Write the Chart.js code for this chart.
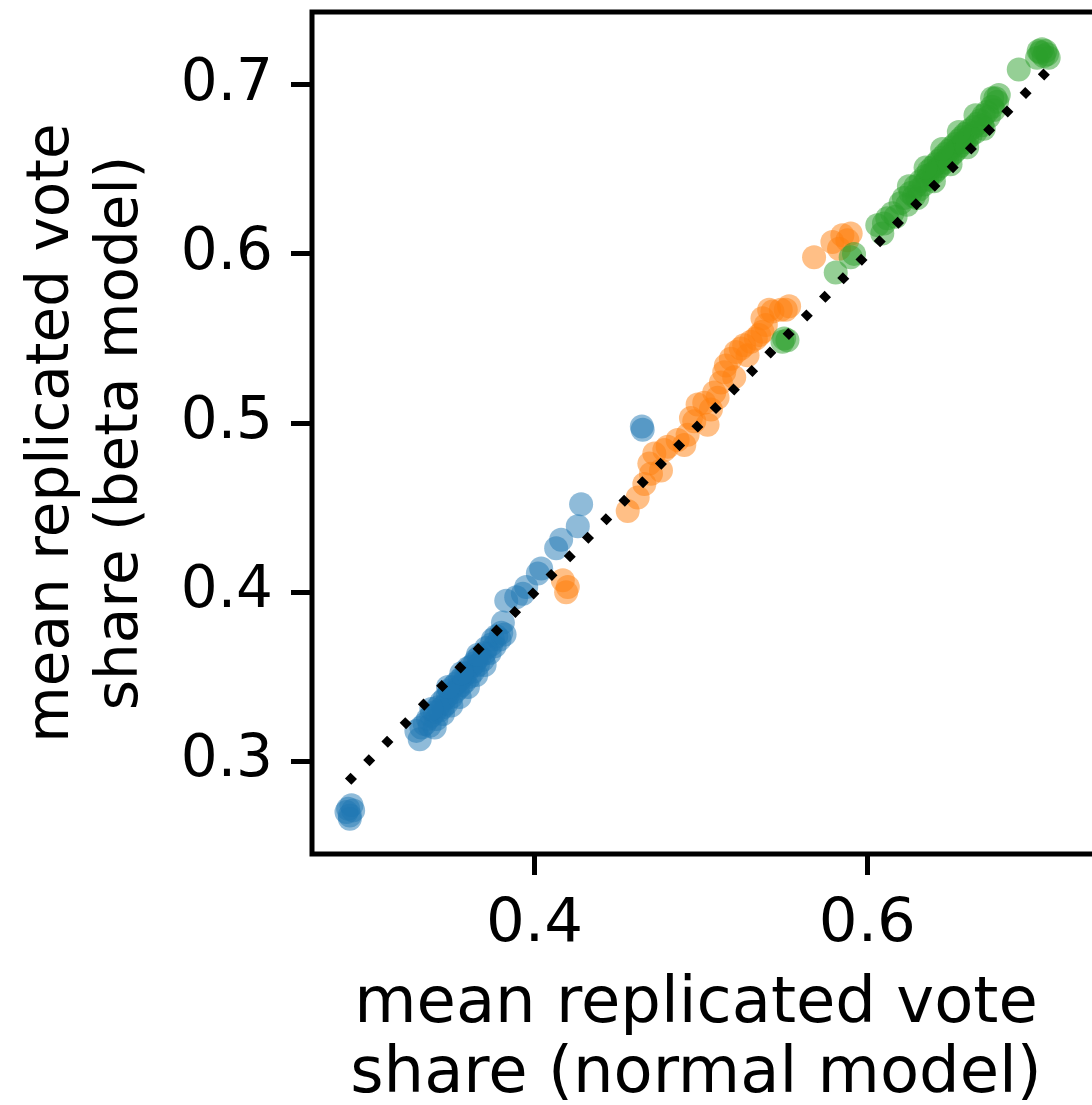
<!DOCTYPE html>
<html>
<head>
<meta charset="utf-8">
<script src="https://cdn.jsdelivr.net/npm/chart.js@4.4.1/dist/chart.umd.min.js"></script>
<style>
  html, body { margin: 0; padding: 0; background: #fff; }
  #wrap { width: 1092px; height: 1105px; position: relative; }
</style>
</head>
<body>
<div id="wrap"><canvas id="myChart"></canvas></div>
<script>
// values: [normal model, beta model]
var bluePoints = [
  [0.288, 0.272], [0.289, 0.268], [0.290, 0.274], [0.287, 0.270], [0.291, 0.271], [0.289, 0.266],
  [0.329, 0.318], [0.331, 0.313], [0.332, 0.320], [0.334, 0.322], [0.336, 0.325], [0.337, 0.321],
  [0.338, 0.327], [0.340, 0.329], [0.341, 0.325], [0.342, 0.332], [0.343, 0.330], [0.344, 0.335],
  [0.345, 0.332], [0.346, 0.337], [0.347, 0.334], [0.348, 0.339], [0.349, 0.342], [0.350, 0.338],
  [0.351, 0.344], [0.352, 0.341], [0.353, 0.346], [0.354, 0.343], [0.355, 0.348], [0.356, 0.345],
  [0.357, 0.350], [0.358, 0.347], [0.359, 0.352], [0.360, 0.355], [0.361, 0.350], [0.362, 0.356],
  [0.363, 0.353], [0.364, 0.358], [0.365, 0.360], [0.366, 0.357], [0.367, 0.362], [0.369, 0.360],
  [0.370, 0.364], [0.371, 0.367], [0.373, 0.364], [0.374, 0.369], [0.375, 0.372], [0.376, 0.368],
  [0.377, 0.374], [0.379, 0.372], [0.380, 0.376], [0.381, 0.382], [0.382, 0.375],
  [0.340, 0.320], [0.345, 0.328], [0.350, 0.333], [0.355, 0.338], [0.360, 0.344], [0.365, 0.351],
  [0.370, 0.357], [0.338, 0.331], [0.348, 0.344], [0.356, 0.352], [0.366, 0.363],
  [0.383, 0.395], [0.389, 0.397], [0.393, 0.399], [0.395, 0.403], [0.402, 0.411], [0.404, 0.414],
  [0.413, 0.426], [0.416, 0.431], [0.426, 0.439], [0.428, 0.452],
  [0.4645, 0.498], [0.465, 0.496]
];
var orangePoints = [
  [0.417, 0.407], [0.419, 0.400], [0.420, 0.403],
  [0.456, 0.448], [0.462, 0.456], [0.466, 0.464], [0.469, 0.476], [0.470, 0.470], [0.472, 0.482],
  [0.476, 0.472], [0.478, 0.484], [0.480, 0.486], [0.486, 0.490], [0.490, 0.487], [0.492, 0.493],
  [0.494, 0.503], [0.496, 0.501], [0.498, 0.511], [0.502, 0.512], [0.504, 0.499], [0.506, 0.508],
  [0.508, 0.518], [0.510, 0.515], [0.512, 0.524], [0.514, 0.530], [0.515, 0.534], [0.518, 0.538],
  [0.520, 0.527], [0.521, 0.542], [0.524, 0.544], [0.526, 0.546], [0.528, 0.540], [0.530, 0.548],
  [0.533, 0.550], [0.535, 0.552], [0.537, 0.554], [0.539, 0.558], [0.537, 0.562], [0.541, 0.567],
  [0.543, 0.566], [0.548, 0.567], [0.551, 0.567], [0.553, 0.569],
  [0.568, 0.598], [0.579, 0.607], [0.583, 0.603], [0.585, 0.611], [0.588, 0.608], [0.590, 0.612]
];
var greenPoints = [
  [0.549, 0.548], [0.552, 0.549], [0.550, 0.550],
  [0.581, 0.589], [0.590, 0.598], [0.592, 0.600],
  [0.606, 0.617], [0.609, 0.612], [0.610, 0.618], [0.612, 0.621], [0.615, 0.624], [0.617, 0.622],
  [0.620, 0.630], [0.622, 0.633], [0.624, 0.629], [0.626, 0.636], [0.628, 0.634], [0.629, 0.640],
  [0.631, 0.638], [0.632, 0.643], [0.634, 0.641], [0.635, 0.646], [0.636, 0.644], [0.637, 0.649],
  [0.638, 0.647], [0.639, 0.651], [0.640, 0.648], [0.641, 0.653], [0.642, 0.650], [0.643, 0.655],
  [0.644, 0.652], [0.645, 0.657], [0.646, 0.654], [0.647, 0.659], [0.648, 0.656], [0.649, 0.661],
  [0.650, 0.658], [0.651, 0.663], [0.652, 0.660], [0.653, 0.665], [0.654, 0.662], [0.655, 0.667],
  [0.656, 0.664], [0.657, 0.669], [0.658, 0.666], [0.659, 0.671], [0.660, 0.668], [0.661, 0.673],
  [0.662, 0.670], [0.664, 0.675], [0.665, 0.672], [0.666, 0.677], [0.668, 0.679], [0.669, 0.676],
  [0.670, 0.682], [0.672, 0.684], [0.673, 0.681], [0.675, 0.687], [0.676, 0.685], [0.678, 0.690],
  [0.679, 0.694], [0.677, 0.692],
  [0.630, 0.633], [0.640, 0.643], [0.650, 0.653], [0.660, 0.663], [0.670, 0.674],
  [0.625, 0.640], [0.635, 0.651], [0.645, 0.662], [0.655, 0.672], [0.665, 0.682], [0.675, 0.692],
  [0.691, 0.709],
  [0.702, 0.716], [0.704, 0.719], [0.705, 0.721], [0.706, 0.717], [0.707, 0.720], [0.708, 0.718],
  [0.709, 0.716], [0.703, 0.720]
];
var diagonal = [0.288, 0.711];   // y = x reference line
var xTicks = [0.4, 0.6];
var yTicks = [0.3, 0.4, 0.5, 0.6, 0.7];
var xRange = [0.26627, 0.72781];
var yRange = [0.24521, 0.74300];

function toXY(list) {
  return list.map(function (p) { return { x: p[0], y: p[1] }; });
}

// spines: left, top, bottom (right one is off the picture)
var spines = {
  id: 'spines',
  afterDatasetsDraw: function (chart) {
    var a = chart.chartArea, ctx = chart.ctx;
    ctx.save();
    ctx.strokeStyle = '#000';
    ctx.lineWidth = 5;
    ctx.lineCap = 'square';
    ctx.beginPath();
    ctx.moveTo(a.right + 10, a.top);
    ctx.lineTo(a.left, a.top);
    ctx.lineTo(a.left, a.bottom);
    ctx.lineTo(a.right + 10, a.bottom);
    ctx.stroke();
    ctx.restore();
  }
};

var ctx = document.getElementById('myChart').getContext('2d');
var myChart = new Chart(ctx, {
  type: 'scatter',
  data: {
    datasets: [{
      type: 'line',
      data: diagonal.map(function (v) { return { x: v, y: v }; }),
      borderColor: '#000',
      borderWidth: 9,
      borderDash: [8, 18],
      borderCapStyle: 'butt',
      pointRadius: 0,
      fill: false,
      order: 0
    }, {
      data: toXY(greenPoints),
      backgroundColor: 'rgba(44,160,44,0.5)',
      borderWidth: 0,
      pointRadius: 12,
      order: 1
    }, {
      data: toXY(orangePoints),
      backgroundColor: 'rgba(255,127,14,0.5)',
      borderWidth: 0,
      pointRadius: 12,
      order: 2
    }, {
      data: toXY(bluePoints),
      backgroundColor: 'rgba(31,119,180,0.5)',
      borderWidth: 0,
      pointRadius: 12,
      order: 3
    }]
  },
  options: {
    responsive: true,
    maintainAspectRatio: false,
    animation: false,
    layout: { padding: { top: 9, right: 0, left: 0, bottom: 0 } },
    plugins: { legend: { display: false }, tooltip: { enabled: false } },
    scales: {
      x: {
        type: 'linear',
        min: xRange[0],
        max: xRange[1],
        afterBuildTicks: function (s) { s.ticks = xTicks.map(function (v) { return { value: v }; }); },
        afterFit: function (s) { s.height = 251; s.paddingLeft = 0; s.paddingRight = 0; },
        grid: { drawOnChartArea: false, tickLength: 21, tickWidth: 5, tickColor: '#000' },
        border: { display: false },
        ticks: {
          padding: 14,
          color: '#000',
          font: { family: 'DejaVu Sans', size: 61 },
          callback: function (v) { return v.toFixed(1); }
        },
        title: {
          display: true,
          text: ['mean replicated vote', 'share (normal model)'],
          color: '#000',
          font: { family: 'DejaVu Sans', size: 64, lineHeight: 1.09 },
          padding: { top: 0, bottom: -5 }
        }
      },
      y: {
        type: 'linear',
        min: yRange[0],
        max: yRange[1],
        afterBuildTicks: function (s) { s.ticks = yTicks.map(function (v) { return { value: v }; }); },
        afterFit: function (s) { s.width = 312; s.paddingTop = 0; s.paddingBottom = 0; },
        grid: { drawOnChartArea: false, tickLength: 21, tickWidth: 5, tickColor: '#000' },
        border: { display: false },
        ticks: {
          padding: 18,
          color: '#000',
          font: { family: 'DejaVu Sans', size: 58 },
          callback: function (v) { return v.toFixed(1); }
        },
        title: {
          display: true,
          text: ['mean replicated vote', 'share (beta model)'],
          color: '#000',
          font: { family: 'DejaVu Sans', size: 58, lineHeight: 1.2 },
          padding: { top: 18, bottom: 0 }
        }
      }
    }
  },
  plugins: [spines]
});
</script>
</body>
</html>
